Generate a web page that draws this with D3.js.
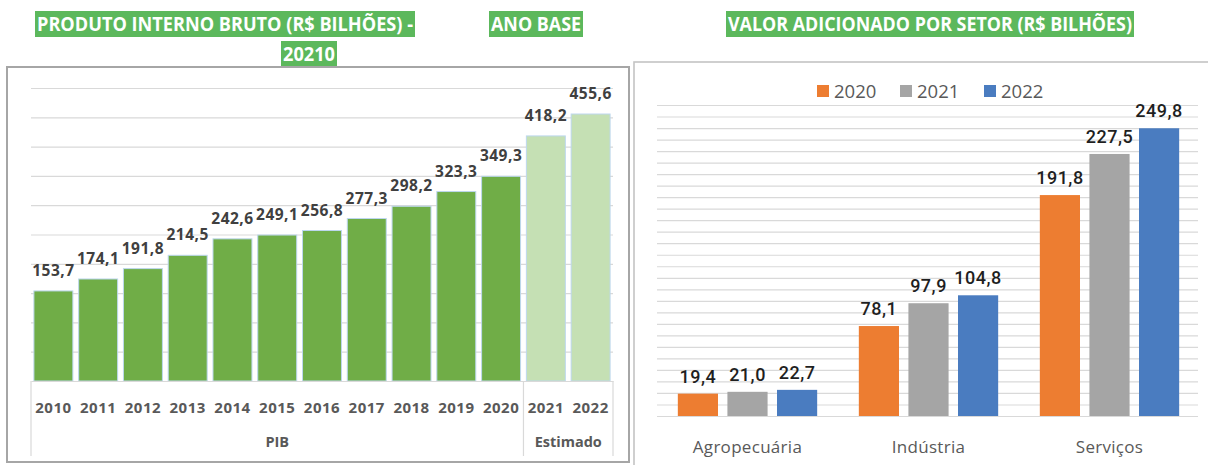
<!DOCTYPE html>
<html><head><meta charset="utf-8">
<script src="https://cdn.jsdelivr.net/npm/d3@7"></script>
<style>
html,body{margin:0;padding:0;background:#fff;}
svg{display:block;}
</style></head>
<body>
<svg id="c" width="1208" height="465"></svg>
<script>
// ---- data ----
const pibYears = ["2010","2011","2012","2013","2014","2015","2016","2017","2018","2019","2020","2021","2022"];
const pibValues = [153.7,174.1,191.8,214.5,242.6,249.1,256.8,277.3,298.2,323.3,349.3,418.2,455.6];
const pibGroups = ["PIB","PIB","PIB","PIB","PIB","PIB","PIB","PIB","PIB","PIB","PIB","Estimado","Estimado"];
const groupNames = ["PIB","Estimado"];
const sectors = ["Agropecuária","Indústria","Serviços"];
const seriesYears = ["2020","2021","2022"];
const v2020 = [19.4,78.1,191.8];
const v2021 = [21.0,97.9,227.5];
const v2022 = [22.7,104.8,249.8];
const titleLeft1 = "PRODUTO INTERNO BRUTO (R$ BILHÕES) -";
const titleLeft2 = "ANO BASE";
const titleLeft3 = "20210";
const titleRight = "VALOR ADICIONADO POR SETOR (R$ BILHÕES)";

const fmt = v => d3.format(".1f")(v).replace(".", ",");
const svg = d3.select("#c");
const GREEN_T = "#5cb85c";

// ---- titles ----
function titleBox(x, y, w, h, txt){
  svg.append("rect").attr("x",x).attr("y",y).attr("width",w).attr("height",h).attr("fill",GREEN_T);
  svg.append("text").attr("x",x+2).attr("y",y+h/2+7)
    .attr("textLength",w-4).attr("lengthAdjust","spacingAndGlyphs")
    .attr("font-family","'Open Sans',sans-serif").attr("font-weight","700").attr("font-size",19)
    .attr("fill","#fff").text(txt);
}
titleBox(35,11,380,26,titleLeft1);
titleBox(489,11,94,26,titleLeft2);
titleBox(281,41,56,25,titleLeft3);
titleBox(726,11,408,26,titleRight);

// ---- left chart ----
svg.append("rect").attr("x",7).attr("y",67).attr("width",622).attr("height",395)
  .attr("fill","#fff").attr("stroke","#a6a6a6").attr("stroke-width",2);

const yL = d3.scaleLinear().domain([0,500]).range([381,88]);
const xL = d3.scaleBand().domain(pibYears).range([31,613]).paddingInner(0.13).paddingOuter(0.065);

const gL = svg.append("g");
gL.append("g")
  .call(d3.axisLeft(yL).tickValues(d3.range(50,501,50)).tickSize(-(613-31)).tickFormat(""))
  .attr("transform","translate(31,0)")
  .call(g=>g.select(".domain").remove())
  .call(g=>g.selectAll("line").attr("stroke","#d9d9d9").attr("stroke-width",1.2));

gL.selectAll("rect.bar").data(pibValues).join("rect").attr("class","bar")
  .attr("x",(d,i)=>xL(pibYears[i])).attr("width",xL.bandwidth())
  .attr("y",d=>yL(d)).attr("height",d=>yL(0)-yL(d))
  .attr("fill",(d,i)=>pibGroups[i]==="PIB"?"#70ad47":"#c5e0b4")
  .attr("stroke","#bdd7ee").attr("stroke-width",1);

gL.selectAll("text.val").data(pibValues).join("text").attr("class","val")
  .attr("x",(d,i)=>xL(pibYears[i])+xL.bandwidth()/2).attr("y",d=>yL(d)-15)
  .attr("text-anchor","middle").attr("font-family","'Open Sans',sans-serif")
  .attr("font-weight","700").attr("font-size",15.5).attr("letter-spacing",0.5)
  .attr("fill","#404040").text(d=>fmt(d));

// category axis
const xAx = gL.append("g").attr("transform","translate(0,381)")
  .call(d3.axisBottom(xL).tickSize(0).tickPadding(32));
xAx.select(".domain").attr("stroke","#d9d9d9").attr("stroke-width",1.2);
xAx.selectAll("text").attr("font-family","'Open Sans',sans-serif").attr("font-weight","700")
  .attr("font-size",15).attr("letter-spacing",0.5).attr("fill","#595959").attr("dy",0);

// group separators and labels
const step = xL.step();
const groupBounds = groupNames.map(g=>{
  const ys = pibYears.filter((y,i)=>pibGroups[i]===g);
  const a = xL(ys[0]) - step*xL.paddingInner()/2;
  const b = xL(ys[ys.length-1]) + xL.bandwidth() + step*xL.paddingInner()/2;
  return {g, a, b};
});
groupBounds[0].a = xL.range()[0];
groupBounds[groupBounds.length-1].b = xL.range()[1];
const seps = [groupBounds[0].a].concat(groupBounds.map(d=>d.b));
gL.selectAll("line.sep").data(seps).join("line").attr("class","sep")
  .attr("x1",d=>d).attr("x2",d=>d).attr("y1",381).attr("y2",456)
  .attr("stroke","#d9d9d9").attr("stroke-width",1.2);
gL.selectAll("text.grp").data(groupBounds).join("text").attr("class","grp")
  .attr("x",d=>(d.a+d.b)/2).attr("y",447).attr("text-anchor","middle")
  .attr("font-family","'Open Sans',sans-serif").attr("font-weight","700").attr("font-size",14.5)
  .attr("fill","#595959").text(d=>d.g);

// ---- right chart ----
svg.append("rect").attr("x",634).attr("y",62).attr("width",600).attr("height",420)
  .attr("fill","#fff").attr("stroke","#c4c4c4").attr("stroke-width",1.6);

const yR = d3.scaleLinear().domain([0,270]).range([416,105]);
const x0 = d3.scaleBand().domain(sectors).range([657,1200]);
const x1 = d3.scaleBand().domain(seriesYears).range([0,x0.bandwidth()]).paddingInner(0.19).paddingOuter(0.42);
const colors = d3.scaleOrdinal().domain(seriesYears).range(["#ed7d31","#a5a5a5","#4a7cc0"]);

const gR = svg.append("g");
gR.append("g").attr("transform","translate(657,0)")
  .call(d3.axisLeft(yR).tickValues(d3.range(0,271,10)).tickSize(-(1198-657)).tickFormat(""))
  .call(g=>g.select(".domain").remove())
  .call(g=>g.selectAll("line").attr("stroke","#d9d9d9").attr("stroke-width",1.2));

const series = [v2020, v2021, v2022];
const flat = [];
sectors.forEach((s,i)=>seriesYears.forEach((y,j)=>flat.push({s, y, v: series[j][i]})));

gR.selectAll("rect.bar").data(flat).join("rect").attr("class","bar")
  .attr("x",d=>x0(d.s)+x1(d.y)).attr("width",x1.bandwidth())
  .attr("y",d=>yR(d.v)).attr("height",d=>yR(0)-yR(d.v))
  .attr("fill",d=>colors(d.y));

gR.selectAll("text.val").data(flat).join("text").attr("class","val")
  .attr("x",d=>x0(d.s)+x1(d.y)+x1.bandwidth()/2).attr("y",d=>yR(d.v)-11)
  .attr("text-anchor","middle").attr("font-family","Roboto,sans-serif")
  .attr("font-weight","500").attr("font-size",18).attr("letter-spacing",0.5)
  .attr("fill","#1f1f1f").text(d=>fmt(d.v));

const xAxR = gR.append("g").attr("transform","translate(0,416)")
  .call(d3.axisBottom(x0).tickSize(0).tickPadding(37));
xAxR.select(".domain").remove();
xAxR.selectAll("text").attr("font-family","'Open Sans',sans-serif").attr("font-size",17)
  .attr("letter-spacing",0.3).attr("fill","#595959").attr("dy",0);

// legend
const legX = [817,900,984];
const leg = gR.selectAll("g.leg").data(seriesYears).join("g").attr("class","leg")
  .attr("transform",(d,i)=>`translate(${legX[i]},84)`);
leg.append("rect").attr("width",12).attr("height",12).attr("y",1).attr("fill",d=>colors(d));
leg.append("text").attr("x",17).attr("y",14).attr("font-family","'Open Sans',sans-serif")
  .attr("font-size",18.5).attr("fill","#595959").text(d=>d);
</script>
</body></html>
